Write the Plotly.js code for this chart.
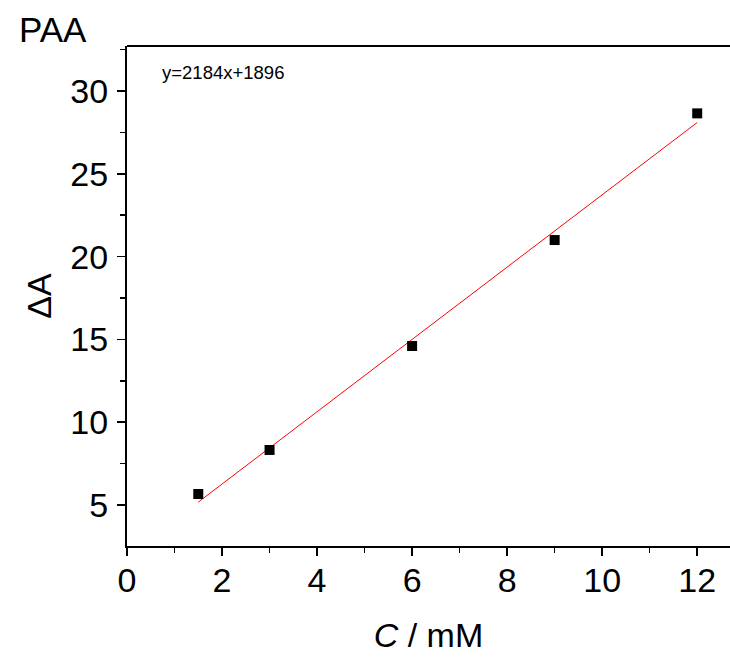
<!DOCTYPE html>
<html>
<head>
<meta charset="utf-8">
<script src="https://cdn.plot.ly/plotly-3.0.1.min.js"></script>
<style>html,body{margin:0;padding:0;background:#fff;}#chart{width:730px;height:657px;}</style>
</head>
<body>
<div id="chart"></div>
<script>
var concX = [1.5, 3, 6, 9, 12];
var deltaA = [5.66, 8.32, 14.6, 21.0, 28.65];
var fitX = [1.5, 12];
var fitY = [5.17, 28.1];
var xTicks = [0, 2, 4, 6, 8, 10, 12];
var yTicks = [5, 10, 15, 20, 25, 30];
var equationText = 'y=2184x+1896';
var panelLabel = 'PAA';

var font = 'Liberation Sans, Arial, sans-serif';

var traces = [
  {x: fitX, y: fitY, mode: 'lines', type: 'scatter',
   line: {color: '#ff0000', width: 1}, hoverinfo: 'skip', showlegend: false},
  {x: concX, y: deltaA, mode: 'markers', type: 'scatter',
   marker: {symbol: 'square', size: 10, color: '#000000'}, showlegend: false}
];

var layout = {
  width: 730, height: 657,
  margin: {l: 127, r: 0, t: 46, b: 111},
  paper_bgcolor: '#ffffff', plot_bgcolor: '#ffffff',
  font: {family: font, color: '#000000'},
  showlegend: false,
  xaxis: {
    range: [0, 12.69], tickvals: xTicks, ticktext: xTicks.map(String),
    showgrid: false, zeroline: false,
    showline: true, linecolor: '#000', linewidth: 2,
    ticks: 'outside', ticklen: 8, tickwidth: 1.5, tickcolor: '#000',
    tickfont: {size: 34, family: font},
    ticklabelstandoff: -5,
    minor: {tickvals: [1, 3, 5, 7, 9, 11], ticks: 'outside', ticklen: 5, tickwidth: 1.5, tickcolor: '#000'},
    title: {text: '<i>C</i> / mM', font: {size: 34, family: font}, standoff: 25}
  },
  yaxis: {
    range: [2.52, 32.72], tickvals: yTicks, ticktext: yTicks.map(String),
    showgrid: false, zeroline: false,
    showline: true, linecolor: '#000', linewidth: 2,
    ticks: 'outside', ticklen: 8, tickwidth: 1.5, tickcolor: '#000',
    tickfont: {size: 34, family: font},
    ticklabelstandoff: 2,
    minor: {tickvals: [2.5, 7.5, 12.5, 17.5, 22.5, 27.5, 32.5], ticks: 'outside', ticklen: 5, tickwidth: 1.5, tickcolor: '#000'},
    title: {text: '\u0394A', font: {size: 34, family: font}, standoff: 8}
  },
  shapes: [
    {type: 'line', xref: 'paper', yref: 'paper', x0: 0, x1: 1, y0: 1, y1: 1,
     line: {color: '#000', width: 2}}
  ],
  annotations: [
    {text: panelLabel, xref: 'paper', yref: 'paper', x: -110/603, y: 1, xanchor: 'left', yanchor: 'middle',
     showarrow: false, font: {size: 35, family: font}, yshift: 17},
    {text: equationText, xref: 'paper', yref: 'paper', x: 33/603, y: 1, xanchor: 'left', yanchor: 'top',
     showarrow: false, font: {size: 18.5, family: font}, yshift: -14}
  ]
};

Plotly.newPlot('chart', traces, layout, {displayModeBar: false, staticPlot: true});
</script>
</body>
</html>
